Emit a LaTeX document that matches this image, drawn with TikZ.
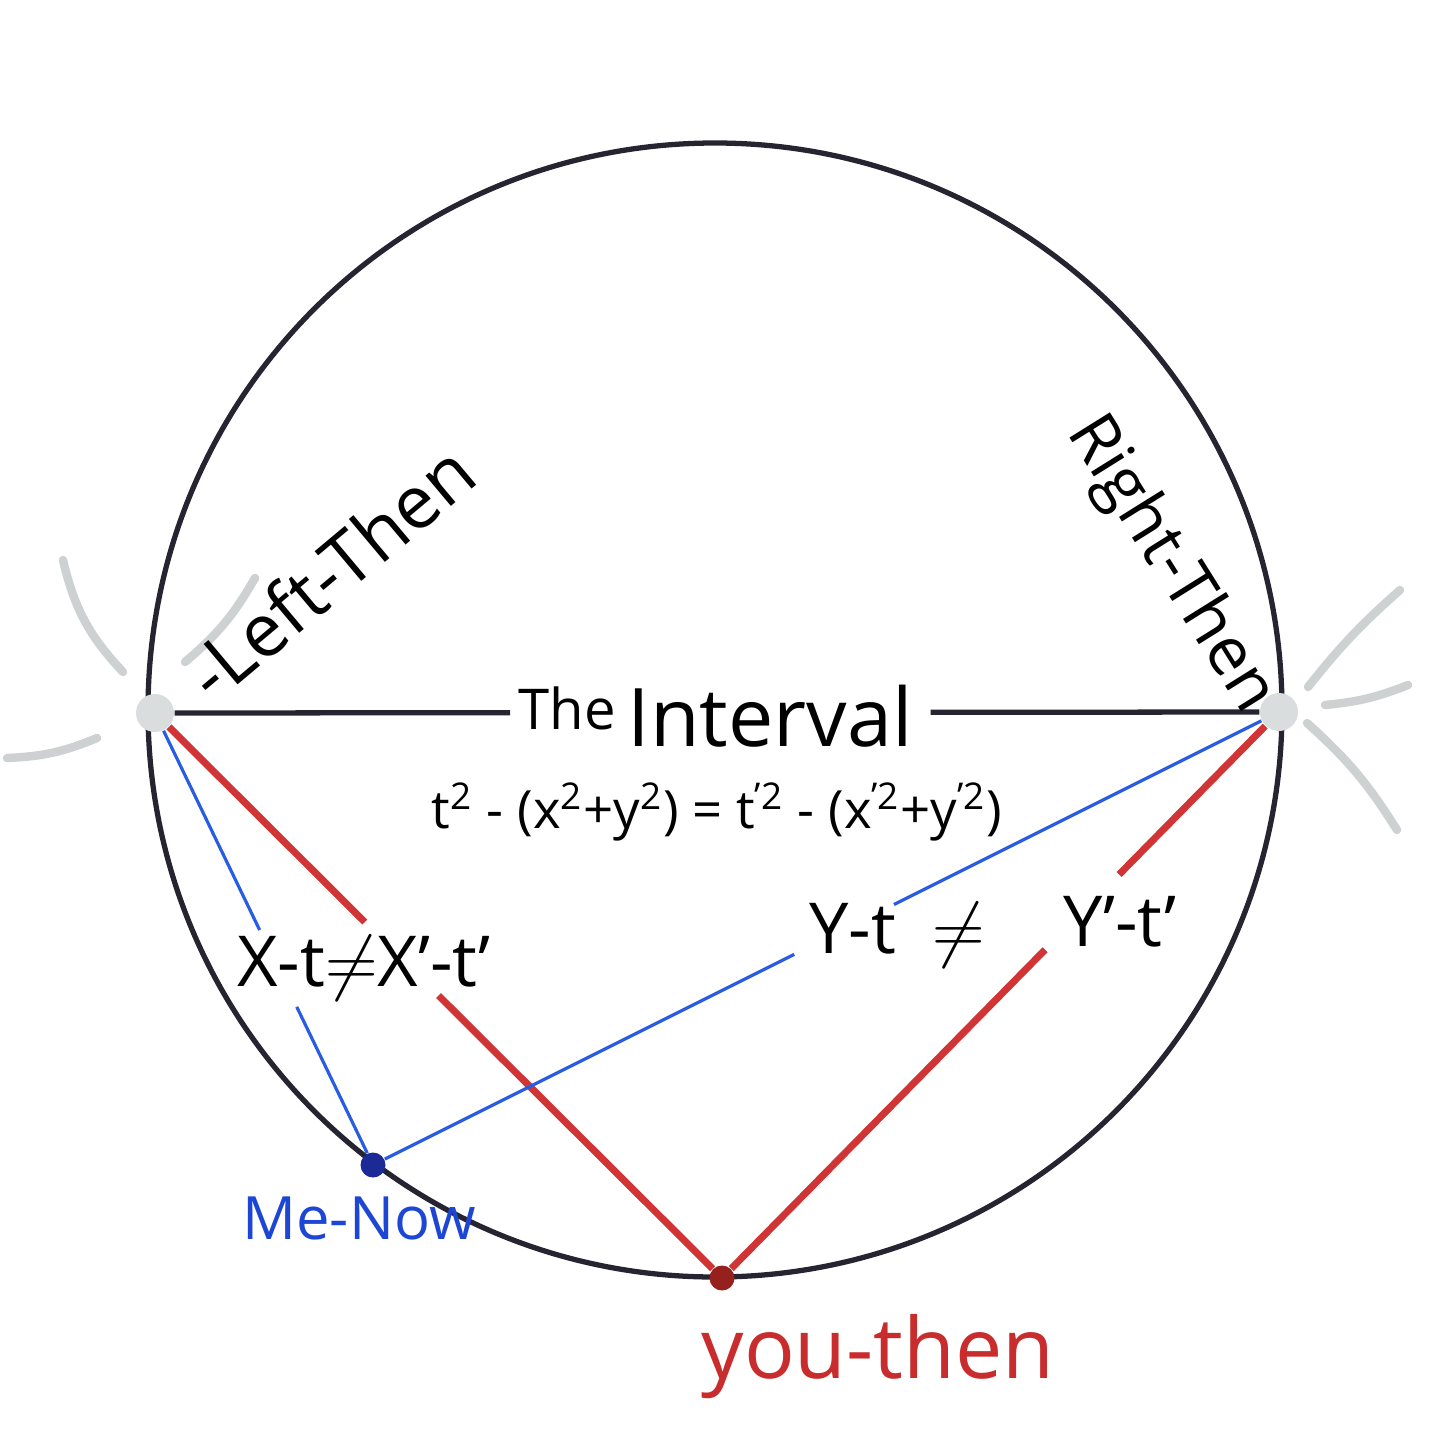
\documentclass[tikz,border=0pt]{standalone}
\usepackage{fontspec}
\setmainfont{Open Sans}
\usetikzlibrary{calc,backgrounds}

\definecolor{rimink}{RGB}{38,36,48}
\definecolor{redink}{RGB}{208,52,52}
\definecolor{blueink}{RGB}{40,92,226}
\definecolor{darkred}{RGB}{150,32,30}
\definecolor{navyink}{RGB}{28,42,150}
\definecolor{grayink}{RGB}{205,209,209}
\definecolor{youink}{RGB}{200,44,44}
\definecolor{meink}{RGB}{30,70,212}

\begin{document}
\begin{tikzpicture}[
    rim/.style={draw=rimink, line width=1.5pt},
    redline/.style={draw=redink, line width=2pt},
    blueline/.style={draw=blueink, line width=0.9pt},
    ray/.style={draw=grayink, line width=2.4pt, line cap=round},
    graydot/.style={circle, fill=grayink!75, inner sep=0pt, minimum size=0.38cm},
    inkdot/.style={circle, inner sep=0pt, minimum size=0.25cm},
    hand/.style={inner sep=1pt, text=black}
]
    \useasboundingbox (0,0) rectangle (14.4,-14.4);

    % Events on the circle
    \coordinate (centre) at (7.15,-7.10);
    \node[graydot] (left) at (1.55,-7.13) {};
    \node[graydot] (right) at (12.79,-7.12) {};
    \node[inkdot, fill=navyink] (me) at (3.73,-11.65) {};
    \node[inkdot, fill=darkred] (you) at (7.22,-12.78) {};

    % Labels
    \node[hand, font=\fontsize{16}{18}\selectfont] (the) at (5.67,-7.08) {The};
    \node[hand, font=\fontsize{23}{25}\selectfont] (interval) at (7.70,-7.16) {Interval};
    \node[hand, font=\fontsize{15}{17}\selectfont] (eq) at (7.17,-8.12)
        {t\textsuperscript{2} - (x\textsuperscript{2}+y\textsuperscript{2}) = t\textsuperscript{'2} - (x\textsuperscript{'2}+y\textsuperscript{'2})};
    \node[hand, font=\fontsize{20}{22}\selectfont] (xneq) at (3.64,-9.68) {X-t$\neq$X'-t'};
    \node[hand, font=\fontsize{20}{22}\selectfont] (yneq) at (8.97,-9.35) {Y-t \ $\neq$};
    \node[hand, font=\fontsize{20}{22}\selectfont] (yprime) at (11.20,-9.22) {Y'-t'};
    \node[hand, font=\fontsize{21}{23}\selectfont, rotate=40] (lefttag) at (3.30,-5.72) {-Left-Then};
    \node[hand, font=\fontsize{19}{21}\selectfont, rotate=-58] (righttag) at (11.70,-5.65) {Right-Then};
    \node[hand, text=meink, font=\fontsize{17}{19}\selectfont] (metag) at (3.59,-12.18) {Me-Now};
    \node[hand, text=youink, font=\fontsize{24}{26}\selectfont] (youtag) at (8.78,-13.57) {you-then};

    % Gaps left for the labels
    \coordinate (i1) at ($(left)!0.316!(right)$);
    \coordinate (i2) at ($(left)!0.69!(right)$);
    \coordinate (r1) at ($(left)!0.37!(you)$);
    \coordinate (r2) at ($(left)!0.50!(you)$);
    \coordinate (r3) at ($(you)!0.58!(right)$);
    \coordinate (r4) at ($(you)!0.713!(right)$);
    \coordinate (b1) at ($(left)!0.48!(me)$);
    \coordinate (b2) at ($(left)!0.65!(me)$);
    \coordinate (b3) at ($(me)!0.465!(right)$);
    \coordinate (b4) at ($(me)!0.575!(right)$);

    \begin{scope}[on background layer]
        % Circle and the interval
        \draw[rim] (centre) circle (5.67);
        \draw[rim] (left) -- (i1);
        \draw[rim] (i2) -- (right);
        % Red lines to you
        \draw[redline] (left) -- (r1);
        \draw[redline] (r2) -- (you);
        \draw[redline] (you) -- (r3);
        \draw[redline] (r4) -- (right);
        % Blue lines to me
        \draw[blueline] (left) -- (b1);
        \draw[blueline] (b2) -- (me);
        \draw[blueline] (me) -- (b3);
        \draw[blueline] (b4) -- (right);
        % Gray strokes round the two ends
        \draw[ray] (0.63,-5.60) to[bend right=15] (1.23,-6.72);
        \draw[ray] (1.85,-6.62) to[bend right=10] (2.55,-5.78);
        \draw[ray] (0.07,-7.58) to[bend right=10] (0.97,-7.38);
        \draw[ray] (13.08,-6.87) to[bend left=5] (14.00,-5.90);
        \draw[ray] (13.25,-7.05) to[bend right=8] (14.08,-6.85);
        \draw[ray] (13.07,-7.23) to[bend left=8] (13.97,-8.30);
    \end{scope}
\end{tikzpicture}
\end{document}
